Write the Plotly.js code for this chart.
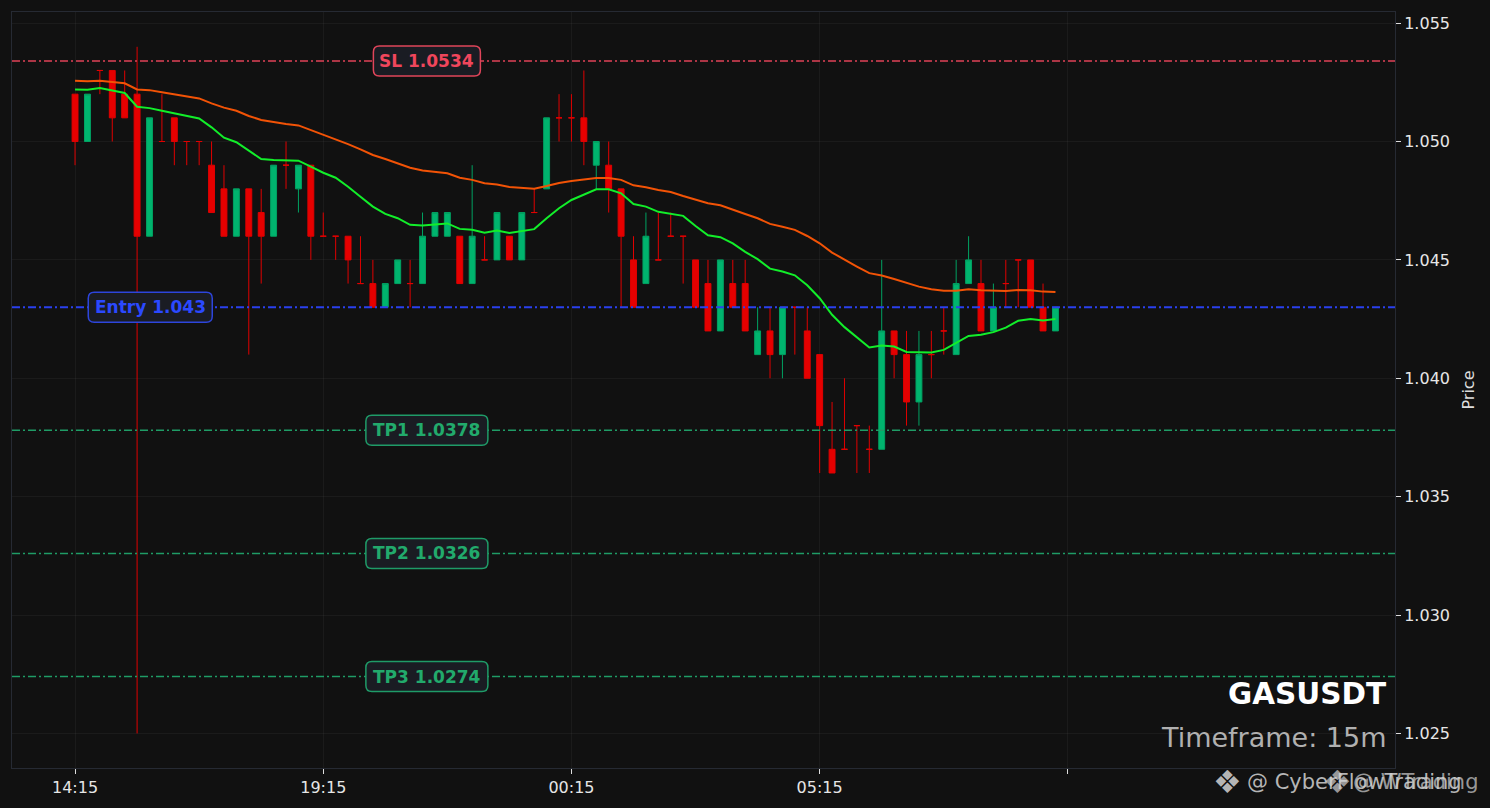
<!DOCTYPE html>
<html>
<head>
<meta charset="utf-8">
<script src="https://cdn.plot.ly/plotly-3.0.1.min.js"></script>
<style>html,body{margin:0;padding:0;background:#111111;}#chart{width:1490px;height:808px;}</style>
</head>
<body>
<div id="chart"></div>
<script>
// ---- data ----
const symbol = 'GASUSDT';
const timeframe = '15m';
const startMs = Date.UTC(2024, 4, 20, 14, 15);
const stepMin = 15;

const opens  = [1.052,1.050,1.053,1.053,1.052,1.052,1.046,1.050,1.051,1.050,
                1.050,1.049,1.048,1.046,1.048,1.047,1.046,1.049,1.048,1.049,
                1.046,1.046,1.046,1.044,1.044,1.043,1.044,1.044,1.044,1.046,
                1.046,1.046,1.044,1.045,1.045,1.046,1.045,1.047,1.048,1.051,
                1.051,1.051,1.049,1.049,1.048,1.045,1.044,1.045,1.046,1.046,
                1.045,1.044,1.042,1.044,1.044,1.041,1.042,1.041,1.043,1.042,
                1.041,1.037,1.037,1.038,1.037,1.037,1.042,1.041,1.039,1.041,
                1.042,1.041,1.044,1.044,1.042,1.044,1.045,1.045,1.043,1.042];
const highs  = [1.052,1.052,1.053,1.053,1.053,1.054,1.051,1.052,1.051,1.050,
                1.050,1.050,1.049,1.048,1.048,1.048,1.049,1.050,1.049,1.049,
                1.047,1.046,1.046,1.046,1.045,1.044,1.045,1.045,1.047,1.047,
                1.047,1.046,1.049,1.046,1.047,1.046,1.047,1.048,1.051,1.052,
                1.052,1.053,1.050,1.050,1.048,1.046,1.047,1.047,1.047,1.046,
                1.045,1.045,1.045,1.045,1.045,1.043,1.043,1.043,1.043,1.043,
                1.041,1.039,1.040,1.038,1.038,1.045,1.042,1.042,1.042,1.042,
                1.043,1.045,1.046,1.045,1.044,1.045,1.045,1.045,1.044,1.043];
const lows   = [1.049,1.050,1.052,1.050,1.051,1.025,1.046,1.050,1.049,1.049,
                1.049,1.047,1.046,1.046,1.041,1.044,1.046,1.048,1.047,1.045,
                1.046,1.045,1.044,1.044,1.043,1.043,1.044,1.043,1.044,1.046,
                1.046,1.044,1.044,1.045,1.045,1.045,1.045,1.047,1.048,1.050,
                1.050,1.049,1.048,1.047,1.043,1.043,1.044,1.045,1.046,1.044,
                1.043,1.042,1.042,1.043,1.042,1.041,1.040,1.040,1.041,1.040,
                1.036,1.036,1.037,1.036,1.036,1.037,1.040,1.038,1.038,1.040,
                1.041,1.041,1.044,1.042,1.042,1.043,1.043,1.043,1.042,1.042];
const closes = [1.050,1.052,1.053,1.051,1.051,1.046,1.051,1.050,1.050,1.050,
                1.050,1.047,1.046,1.048,1.046,1.046,1.049,1.049,1.049,1.046,
                1.046,1.046,1.045,1.044,1.043,1.044,1.045,1.044,1.046,1.047,
                1.047,1.044,1.046,1.045,1.047,1.045,1.047,1.047,1.051,1.051,
                1.051,1.050,1.050,1.048,1.046,1.043,1.046,1.045,1.046,1.046,
                1.043,1.042,1.045,1.043,1.042,1.042,1.041,1.043,1.043,1.040,
                1.038,1.036,1.037,1.038,1.037,1.042,1.041,1.039,1.041,1.041,
                1.042,1.044,1.045,1.042,1.043,1.044,1.045,1.043,1.042,1.043];

const emaFast = [1.05220,1.05219,1.05226,1.05214,1.05205,1.05147,1.05141,1.05130,1.05119,1.05108,
                 1.05097,1.05060,1.05016,1.04997,1.04961,1.04926,1.04922,1.04921,1.04919,1.04894,
                 1.04868,1.04847,1.04809,1.04767,1.04725,1.04694,1.04676,1.04648,1.04645,1.04649,
                 1.04654,1.04631,1.04627,1.04615,1.04624,1.04614,1.04622,1.04630,1.04676,1.04718,
                 1.04753,1.04777,1.04798,1.04798,1.04781,1.04736,1.04725,1.04703,1.04693,1.04686,
                 1.04643,1.04604,1.04596,1.04570,1.04534,1.04503,1.04463,1.04451,1.04435,1.04393,
                 1.04338,1.04268,1.04216,1.04174,1.04130,1.04138,1.04134,1.04111,1.04109,1.04109,
                 1.04120,1.04149,1.04179,1.04184,1.04195,1.04214,1.04243,1.04250,1.04244,1.04250];
const emaSlow = [1.05257,1.05254,1.05257,1.05252,1.05246,1.05220,1.05217,1.05208,1.05200,1.05192,
                 1.05182,1.05161,1.05143,1.05130,1.05108,1.05091,1.05081,1.05074,1.05068,1.05049,
                 1.05029,1.05011,1.04989,1.04967,1.04943,1.04926,1.04908,1.04889,1.04878,1.04873,
                 1.04866,1.04847,1.04838,1.04824,1.04818,1.04808,1.04804,1.04801,1.04812,1.04825,
                 1.04833,1.04841,1.04846,1.04846,1.04838,1.04815,1.04807,1.04795,1.04787,1.04770,
                 1.04753,1.04739,1.04731,1.04714,1.04694,1.04676,1.04652,1.04640,1.04627,1.04601,
                 1.04570,1.04531,1.04500,1.04472,1.04444,1.04434,1.04419,1.04402,1.04387,1.04376,
                 1.04370,1.04370,1.04376,1.04372,1.04369,1.04369,1.04373,1.04372,1.04366,1.04364];

const levelNames  = ['SL', 'Entry', 'TP1', 'TP2', 'TP3'];
const levelValues = [1.0534, 1.043, 1.0378, 1.0326, 1.0274];
const levelLabels = ['SL 1.0534', 'Entry 1.043', 'TP1 1.0378', 'TP2 1.0326', 'TP3 1.0274'];

const tickIndex  = [0, 20, 40, 60, 80];
const tickLabels = ['14:15', '19:15', '00:15', '05:15', ''];

// ---- styling ----
const FONT = 'DejaVu Sans, Verdana, sans-serif';
const stepMs = stepMin * 60000;
const times = opens.map((_, i) => startMs + i * stepMs);
const tIdx = k => startMs + k * stepMs;

const upIdx = [], dnIdx = [];
opens.forEach((o, i) => (closes[i] > o ? upIdx : dnIdx).push(i));
const pick = (arr, idx) => idx.map(i => arr[i]);

function candleTrace(idx, lineColor, fillColor) {
  return {
    type: 'candlestick', x: pick(times, idx), open: pick(opens, idx), high: pick(highs, idx),
    low: pick(lows, idx), close: pick(closes, idx), whiskerwidth: 0, hoverinfo: 'skip',
    increasing: {line: {color: lineColor, width: 1}, fillcolor: fillColor},
    decreasing: {line: {color: lineColor, width: 1}, fillcolor: fillColor},
    showlegend: false
  };
}

const traces = [
  candleTrace(upIdx, '#00a262', '#00b46e'),
  candleTrace(dnIdx, '#e00000', '#e60000'),
  {type: 'scatter', mode: 'lines', x: times, y: emaSlow, line: {color: '#f25306', width: 2}, hoverinfo: 'skip', showlegend: false},
  {type: 'scatter', mode: 'lines', x: times, y: emaFast, line: {color: '#12ee2a', width: 2}, hoverinfo: 'skip', showlegend: false}
];

const levelStyle = {
  SL:    {line: '#df4257', text: '#f0465c', border: '#e0455a', lw: 1.7},
  Entry: {line: '#2a40ee', text: '#2b49ff', border: '#2d45dc', lw: 1.8},
  TP1:   {line: '#1f9c66', text: '#22aa6c', border: '#1f9b68', lw: 1.5},
  TP2:   {line: '#1f9c66', text: '#22aa6c', border: '#1f9b68', lw: 1.5},
  TP3:   {line: '#1f9c66', text: '#22aa6c', border: '#1f9b68', lw: 1.5}
};
const labelPos  = {SL: 28.35, Entry: 6.06, TP1: 28.35, TP2: 28.35, TP3: 28.35};
const labelSize = {SL: [107, 30], Entry: [124, 30], TP1: [122, 30], TP2: [122, 30], TP3: [122, 30]};

function roundRect(w, h, r) {
  const a = w / 2, b = h / 2;
  return `M ${-a + r},${-b} L ${a - r},${-b} Q ${a},${-b} ${a},${-b + r} L ${a},${b - r} Q ${a},${b} ${a - r},${b} ` +
         `L ${-a + r},${b} Q ${-a},${b} ${-a},${b - r} L ${-a},${-b + r} Q ${-a},${-b} ${-a + r},${-b} Z`;
}

const shapes = [];
const annotations = [];
levelNames.forEach((name, k) => {
  const st = levelStyle[name];
  shapes.push({type: 'line', xref: 'paper', x0: 0, x1: 1, yref: 'y', y0: levelValues[k], y1: levelValues[k],
               line: {color: st.line, width: st.lw, dash: '8px,3px,2px,3px'}, layer: 'above'});
});
levelNames.forEach((name, k) => {
  const st = levelStyle[name];
  const [w, h] = labelSize[name];
  shapes.push({type: 'path', xref: 'x', xsizemode: 'pixel', xanchor: tIdx(labelPos[name]),
               yref: 'y', ysizemode: 'pixel', yanchor: levelValues[k], path: roundRect(w, h, 6),
               fillcolor: '#1a1c23', line: {color: st.border, width: 1.5}, layer: 'above'});
  annotations.push({xref: 'x', yref: 'y', x: tIdx(labelPos[name]), y: levelValues[k], text: '<b>' + levelLabels[k] + '</b>',
                    showarrow: false, xanchor: 'center', yanchor: 'middle', font: {family: FONT, size: 17, color: st.text}});
});

const wm = 'rgba(212,212,212,0.85)';
annotations.push(
  {xref: 'paper', yref: 'paper', x: 0.9949, y: 0.098, xanchor: 'right', yanchor: 'middle', showarrow: false,
   text: '<b>' + symbol + '</b>', font: {family: FONT, size: 29.5, color: '#ffffff'}},
  {xref: 'paper', yref: 'paper', x: 0.9949, y: 0.040, xanchor: 'right', yanchor: 'middle', showarrow: false,
   text: 'Timeframe: ' + timeframe, font: {family: FONT, size: 27, color: '#b0b0b0'}},
  // watermark (two overlapping copies, as in the reference)
  {xref: 'paper', yref: 'paper', x: (1211 - 12) / 1383, y: -0.0185, xanchor: 'left', yanchor: 'middle', showarrow: false,
   text: '❖', font: {family: FONT, size: 32, color: wm}},
  {xref: 'paper', yref: 'paper', x: (1245 - 12) / 1383, y: -0.0185, xanchor: 'left', yanchor: 'middle', showarrow: false,
   text: '@ CyberFlowTrading', font: {family: FONT, size: 21, color: wm}},
  {xref: 'paper', yref: 'paper', x: (1321 - 12) / 1383, y: -0.0185, xanchor: 'left', yanchor: 'middle', showarrow: false,
   text: '❖', font: {family: FONT, size: 32, color: 'rgba(212,212,212,0.7)'}},
  {xref: 'paper', yref: 'paper', x: (1481 - 12) / 1383, y: -0.0185, xanchor: 'right', yanchor: 'middle', showarrow: false,
   text: '@ WTrading', font: {family: FONT, size: 21, color: 'rgba(212,212,212,0.7)'}}
);

const layout = {
  width: 1490, height: 808,
  paper_bgcolor: '#111111', plot_bgcolor: '#111111',
  margin: {l: 12, r: 95, t: 12, b: 40},
  font: {family: FONT, color: '#e6e6e6', size: 16},
  showlegend: false,
  boxgap: 0.32,
  xaxis: {
    type: 'date', range: [tIdx(-5.08), tIdx(106.36)],
    tickvals: tickIndex.map(tIdx), ticktext: tickLabels,
    ticks: 'outside', ticklen: 5, tickcolor: '#dddddd', tickwidth: 1,
    showgrid: true, gridcolor: 'rgba(255,255,255,0.045)',
    showline: true, linecolor: '#262a33', linewidth: 1, mirror: true,
    zeroline: false, rangeslider: {visible: false},
    tickfont: {family: FONT, size: 16, color: '#e6e6e6'}, automargin: false
  },
  yaxis: {
    side: 'right', range: [1.02354, 1.05547],
    tick0: 1.025, dtick: 0.005, tickformat: '.3f',
    ticks: 'outside', ticklen: 5, tickcolor: '#dddddd', tickwidth: 1,
    showgrid: true, gridcolor: 'rgba(255,255,255,0.045)',
    showline: true, linecolor: '#262a33', linewidth: 1, mirror: true,
    zeroline: false, automargin: false,
    tickfont: {family: FONT, size: 16, color: '#e6e6e6'},
    title: {text: 'Price', standoff: 13, font: {family: FONT, size: 16, color: '#dddddd'}}
  },
  shapes: shapes,
  annotations: annotations
};

Plotly.newPlot('chart', traces, layout, {displayModeBar: false, staticPlot: true});
</script>
</body>
</html>
